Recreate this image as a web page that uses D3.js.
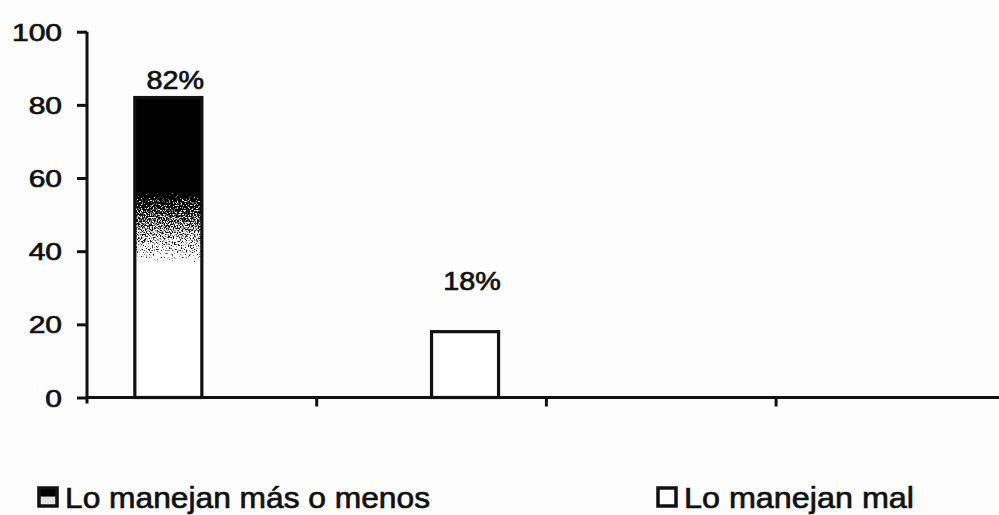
<!DOCTYPE html>
<html>
<head>
<meta charset="utf-8">
<script src="https://cdn.jsdelivr.net/npm/d3@7"></script>
<style>
  html, body { margin: 0; padding: 0; background: #fdfdfd; }
  svg { display: block; }
  text { font-family: "Liberation Sans", Arial, sans-serif; fill: #111; stroke: #111; stroke-width: 0.7px; }
</style>
</head>
<body>
<svg id="chart" width="999" height="515"></svg>
<script>
// Groups along the x axis (unlabelled in the chart)
const categories = ["g1", "g2", "g3", "g4"];
const seriesNames = ["Lo manejan más o menos", "Lo manejan mal"];
const masOMenos = [82, 0, 0, 0];
const mal = [0, 18, 0, 0];
const yTicks = [0, 20, 40, 60, 80, 100];

const seriesValues = [masOMenos, mal];

const svg = d3.select("#chart");
const W = 999, H = 515;
const plotLeft = 87, plotTop = 31.7, plotBottom = 397.5;
const bandW = 229.7;
const ink = "#111";

const y = d3.scaleLinear().domain([0, 100]).range([plotBottom, plotTop]);
const x0 = d3.scaleBand().domain(categories)
  .range([plotLeft, plotLeft + bandW * categories.length]).paddingInner(0).paddingOuter(0);
const x1 = d3.scaleBand().domain(seriesNames)
  .range([0, x0.bandwidth()]).paddingInner(0).paddingOuter(0.714);

// ---- fills: dark-to-white shading with a stippled transition ----
const defs = svg.append("defs");
const grad = defs.append("linearGradient").attr("id", "shade")
  .attr("x1", 0).attr("y1", 0).attr("x2", 0).attr("y2", 1);
[[0, "#000"], [0.3, "#000"], [0.34, "#5a5a5a"], [0.5, "#a0a0a0"], [0.545, "#b8b8b8"], [0.56, "#fff"], [1, "#fff"]]
  .forEach(([o, c]) => grad.append("stop").attr("offset", o).attr("stop-color", c));

// mostly dark swatch for the legend key
const swatchGrad = defs.append("linearGradient").attr("id", "swatchShade")
  .attr("x1", 0).attr("y1", 0).attr("x2", 0).attr("y2", 1);
[[0, "#000"], [0.45, "#000"], [0.5, "#ddd"], [1, "#eee"]]
  .forEach(([o, c]) => swatchGrad.append("stop").attr("offset", o).attr("stop-color", c));

const f = defs.append("filter").attr("id", "grain")
  .attr("x", 0).attr("y", 0).attr("width", 1).attr("height", 1)
  .attr("color-interpolation-filters", "sRGB");
f.append("feTurbulence").attr("type", "fractalNoise").attr("baseFrequency", 0.75)
  .attr("numOctaves", 2).attr("seed", 7).attr("result", "noise");
f.append("feColorMatrix").attr("in", "noise").attr("type", "matrix")
  .attr("values", "-1 0 0 0 1  -1 0 0 0 1  -1 0 0 0 1  0 0 0 0 1").attr("result", "inv");
f.append("feComposite").attr("in", "SourceGraphic").attr("in2", "inv")
  .attr("operator", "arithmetic").attr("k1", 0).attr("k2", 6).attr("k3", 6).attr("k4", -5.5)
  .attr("result", "dith");
f.append("feComposite").attr("in", "dith").attr("in2", "SourceGraphic").attr("operator", "in");

const fills = ["url(#shade)", "#fff"];

// ---- bars ----
const barData = [];
categories.forEach((c, i) => {
  seriesNames.forEach((s, j) => {
    const v = seriesValues[j][i];
    if (v > 0) barData.push({ c, s, j, v });
  });
});

const bars = svg.append("g");
bars.selectAll("rect.fill").data(barData).join("rect")
  .attr("class", "fill")
  .attr("x", d => x0(d.c) + x1(d.s))
  .attr("y", d => y(d.v))
  .attr("width", x1.bandwidth())
  .attr("height", d => y(0) - y(d.v))
  .attr("fill", d => fills[d.j])
  .attr("filter", d => d.j === 0 ? "url(#grain)" : null);
bars.selectAll("rect.edge").data(barData).join("rect")
  .attr("class", "edge")
  .attr("x", d => x0(d.c) + x1(d.s))
  .attr("y", d => y(d.v))
  .attr("width", x1.bandwidth())
  .attr("height", d => y(0) - y(d.v))
  .attr("fill", "none").attr("stroke", ink).attr("stroke-width", 3.2);

// ---- value labels ----
const labelLift = [9, 42];
svg.append("g").selectAll("text").data(barData).join("text")
  .attr("transform", d => {
    const cx = x0(d.c) + x1(d.s) + x1.bandwidth() / 2 + 7;
    return `translate(${cx},${y(d.v) - labelLift[d.j]}) scale(1.15,1)`;
  })
  .attr("text-anchor", "middle")
  .style("font-size", "25px")
  .text(d => d.v + "%");

// ---- y axis ----
const yAxis = svg.append("g").attr("transform", `translate(${plotLeft},0)`)
  .call(d3.axisLeft(y).tickValues(yTicks).tickSize(10).tickSizeOuter(0).tickPadding(0));
yAxis.select(".domain").attr("stroke", ink).attr("stroke-width", 3)
  .attr("d", `M0,${plotTop}V${plotBottom + 6}`);
yAxis.selectAll(".tick line").attr("stroke", ink).attr("stroke-width", 3);
yAxis.selectAll(".tick text")
  .attr("x", -25 / 1.25).attr("dy", "0.36em")
  .attr("transform", "scale(1.25,1)")
  .style("font-size", "24px").style("font-family", "'Liberation Sans', Arial, sans-serif")
  .attr("fill", ink);

// ---- x axis ----
const xAxis = svg.append("g").attr("transform", `translate(0,${plotBottom})`);
xAxis.append("line").attr("x1", plotLeft).attr("x2", W).attr("y1", 0).attr("y2", 0)
  .attr("stroke", ink).attr("stroke-width", 3);
xAxis.selectAll("line.tick").data(categories.slice(1)).join("line")
  .attr("class", "tick")
  .attr("x1", d => x0(d)).attr("x2", d => x0(d))
  .attr("y1", 0).attr("y2", 9)
  .attr("stroke", ink).attr("stroke-width", 3);

// ---- legend ----
const legendItems = [
  { name: seriesNames[0], x: 39, w: 365, fill: "url(#swatchShade)" },
  { name: seriesNames[1], x: 658, w: 230, fill: fills[1] }
];
const lg = svg.append("g").selectAll("g").data(legendItems).join("g")
  .attr("transform", d => `translate(${d.x},488)`);
lg.append("rect").attr("width", 18).attr("height", 18)
  .attr("fill", d => d.fill).attr("stroke", ink).attr("stroke-width", 3.5);
lg.append("text").attr("x", 26).attr("y", 20)
  .attr("textLength", d => d.w).attr("lengthAdjust", "spacingAndGlyphs")
  .style("font-size", "30px")
  .text(d => d.name);
</script>
</body>
</html>
